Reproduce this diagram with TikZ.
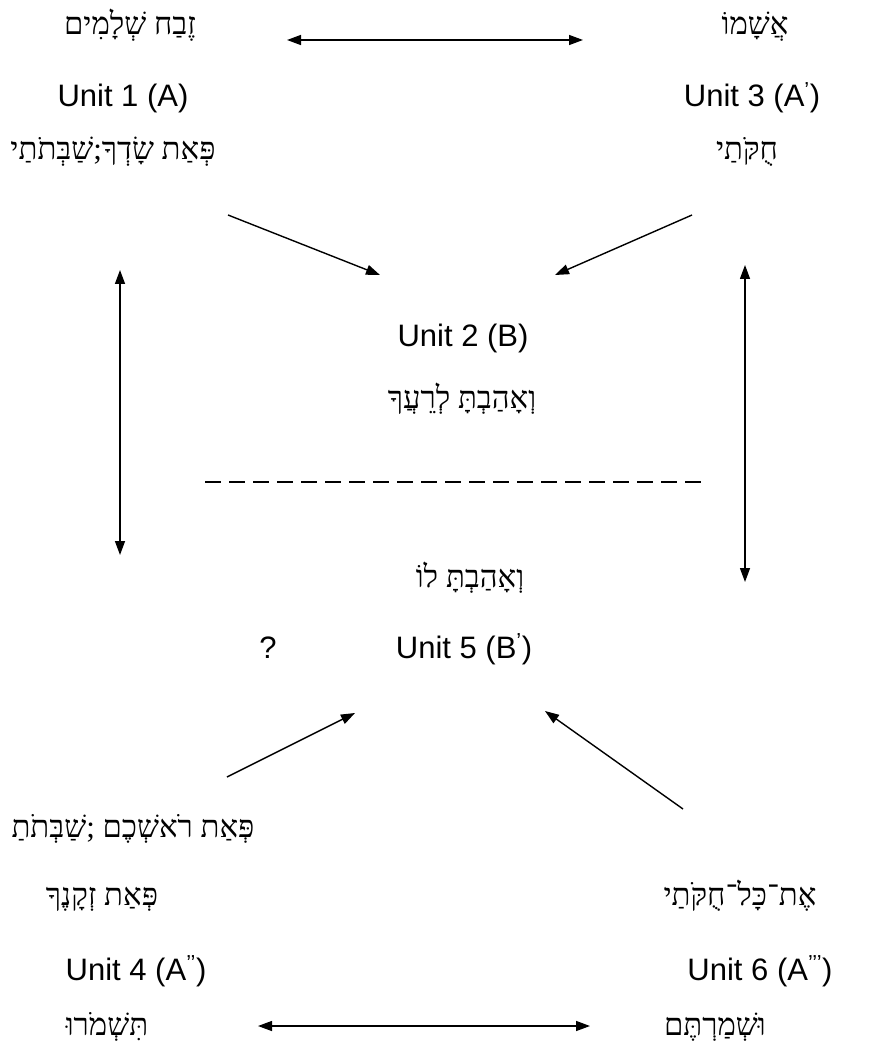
\documentclass[tikz,border=0pt]{standalone}
\usepackage{fontspec}
\setmainfont{Liberation Sans}
\newfontfamily\hebfont[Script=Hebrew]{Liberation Serif}
\TeXXeTstate=1
\usetikzlibrary{arrows.meta}
\newcommand{\heb}[1]{{\hebfont\beginR #1\endR}}
\newcommand{\sq}[1]{\textsuperscript{#1}}
\tikzset{
  lbl/.style={inner sep=0pt, anchor=base, font=\fontsize{31}{37}\selectfont},
  hlbl/.style={inner sep=0pt, anchor=base, font=\fontsize{31}{37}\selectfont\hebfont},
  conn/.style={line width=1.4pt, -{Triangle[length=14pt,width=10pt]}},
  biconn/.style={line width=1.4pt, {Triangle[length=14pt,width=10pt]}-{Triangle[length=14pt,width=10pt]}},
  dashline/.style={line width=1.4pt, dash pattern=on 16pt off 8pt}
}
\begin{document}
\begin{tikzpicture}[x=1pt,y=-1pt]
\useasboundingbox (0,0) rectangle (885,1048);
% top left
\node[hlbl] (zevach) at (130,35) {\heb{זֶבַח שְׁלָמִים}};
\node[lbl] (u1) at (123,107) {Unit 1 (A)};
\node[hlbl] (peat1) at (113,160) {\heb{פְּאַת שָׂדְךָ;שַׁבְּתֹתַי}};
% top right
\node[hlbl] (asham) at (755,35) {\heb{אֲשָׁמוֹ}};
\node[lbl] (u3) at (752,107) {Unit 3 (A\sq{’})};
\node[hlbl] (chukotai) at (747,160) {\heb{חֻקֹּתַי}};
% middle
\node[lbl] (u2) at (463,346) {Unit 2 (B)};
\node[hlbl] (reacha) at (462,408) {\heb{וְאָהַבְתָּ לְרֵעֲךָ}};
\node[hlbl] (lo) at (470,587) {\heb{וְאָהַבְתָּ לוֹ}};
\node[lbl] (u5) at (464,658) {Unit 5 (B\sq{’})};
\node[lbl] (q) at (268,658) {?};
% bottom left
\node[hlbl] (rosh) at (133,837) {\heb{פְּאַת רֹאשְׁכֶם ;שַׁבְּתֹתַ}};
\node[hlbl] (zakan) at (102,905) {\heb{פְּאַת זְקָנֶךָ}};
\node[lbl] (u4) at (136,980) {Unit 4 (A\sq{’’})};
\node[hlbl] (tishmeru) at (107,1035) {\heb{תִּשְׁמֹרוּ}};
% bottom right
\node[hlbl] (kol) at (740,905) {\heb{אֶת־כָּל־חֻקֹּתַי}};
\node[lbl] (u6) at (760,980) {Unit 6 (A\sq{’’’})};
\node[hlbl] (ushmartem) at (715,1035) {\heb{וּשְׁמַרְתֶּם}};
% connector ends
\coordinate (t1) at (287,40);  \coordinate (t2) at (583,40);
\coordinate (b1) at (258,1026); \coordinate (b2) at (590,1026);
\coordinate (d1s) at (228,215); \coordinate (d1e) at (380,275);
\coordinate (d2s) at (692,215); \coordinate (d2e) at (555,275);
\coordinate (d3s) at (227,777); \coordinate (d3e) at (355,713);
\coordinate (d4s) at (683,809); \coordinate (d4e) at (545,711);
\coordinate (v1a) at (120,270); \coordinate (v1b) at (120,555);
\coordinate (v2a) at (745,265); \coordinate (v2b) at (745,582);
\coordinate (ds) at (205,482); \coordinate (de) at (705,482);
% connectors
\draw[biconn] (t1) -- (t2);
\draw[biconn] (b1) -- (b2);
\draw[conn] (d1s) -- (d1e);
\draw[conn] (d2s) -- (d2e);
\draw[conn] (d3s) -- (d3e);
\draw[conn] (d4s) -- (d4e);
\draw[biconn] (v1a) -- (v1b);
\draw[biconn] (v2a) -- (v2b);
\draw[dashline] (ds) -- (de);
\end{tikzpicture}
\end{document}
